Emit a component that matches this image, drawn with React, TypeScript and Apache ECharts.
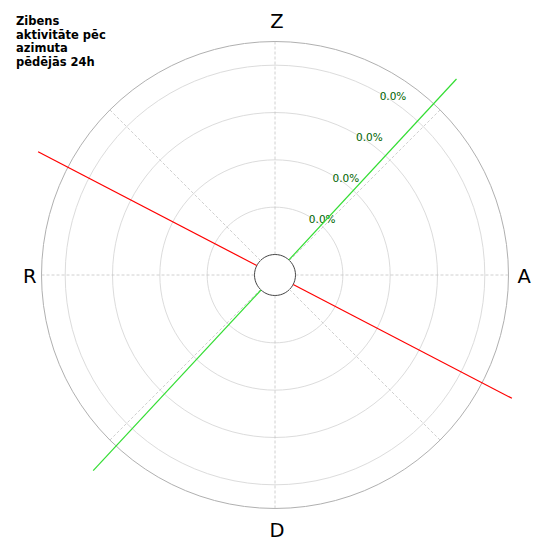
import React, { useEffect, useRef } from 'react';
import * as echarts from 'echarts';

const titleLines = ['Zibens', 'aktivitāte pēc', 'azimuta', 'pēdējās 24h'];
const directionLabels = ['Z', 'A', 'D', 'R'];
const directionAngles = [0, 90, 180, 270];
const ringValues = [1, 2, 3, 4];
const ringLabels = ['0.0%', '0.0%', '0.0%', '0.0%'];
const radiusMax = 4.5;
const redBearings = [297.5, 117.5];
const greenBearings = [42.8, 222.9];
const lineReach = 5.21;

// geometry of the rings: inner hole and pixels per radial unit
const innerR = 20.5;
const unitPx = 47.33;
const lineAxisMax = 5.5;

const makeSeries = (bearings: number[], color: string) =>
  bearings.map((b) => ({
    type: 'line',
    coordinateSystem: 'polar',
    polarIndex: 3,
    data: [
      [0, b],
      [lineReach, b],
    ],
    symbol: 'none',
    clip: false,
    silent: true,
    z: 5,
    lineStyle: { color, width: 1.2 },
  }));

export default function App() {
  const ref = useRef<HTMLDivElement>(null);
  useEffect(() => {
    if (!ref.current) return;
    const chart = echarts.init(ref.current, undefined, { renderer: 'svg' });
    const hidden = {
      axisLine: { show: false },
      axisTick: { show: false },
      splitLine: { show: false },
    };
    const outerR = innerR + unitPx * radiusMax;
    chart.setOption({
      animation: false,
      backgroundColor: '#ffffff',
      title: {
        text: titleLines.join('\n'),
        left: 16,
        top: 14,
        padding: 0,
        textStyle: {
          fontFamily: 'DejaVu Sans',
          fontSize: 11.5,
          fontWeight: 'bold',
          lineHeight: 13.7,
          color: '#000',
        },
      },
      polar: [
        { center: [275, 275], radius: [innerR, outerR] },
        { center: [275, 275], radius: [innerR + 4.1, outerR + 4.1] },
        { center: [277, 276], radius: [innerR, outerR] },
        { center: [275, 275], radius: [innerR, innerR + unitPx * lineAxisMax] },
      ],
      angleAxis: [
        {
          polarIndex: 0,
          type: 'value',
          min: 0,
          max: 360,
          interval: 45,
          startAngle: 90,
          clockwise: true,
          axisLine: { show: false },
          axisTick: { show: false },
          axisLabel: { show: false },
          splitLine: {
            show: true,
            lineStyle: { color: '#c4c4c4', width: 0.8, type: [3, 2] },
          },
        },
        {
          polarIndex: 1,
          type: 'value',
          min: 0,
          max: 360,
          interval: 90,
          startAngle: 60.1,
          clockwise: true,
          ...hidden,
          axisLabel: { show: false },
        },
        {
          polarIndex: 2,
          type: 'value',
          min: 0,
          max: 360,
          interval: 90,
          startAngle: 90,
          clockwise: true,
          ...hidden,
          axisLabel: {
            show: true,
            margin: 7,
            fontFamily: 'DejaVu Sans',
            fontSize: 19.5,
            lineHeight: 29,
            color: '#000',
            formatter: (v: number) => {
              const i = directionAngles.indexOf(v);
              return i >= 0 ? directionLabels[i] : '';
            },
          },
        },
        {
          polarIndex: 3,
          type: 'value',
          min: 0,
          max: 360,
          interval: 90,
          startAngle: 90,
          clockwise: true,
          ...hidden,
          axisLabel: { show: false },
        },
      ],
      radiusAxis: [
        {
          polarIndex: 0,
          type: 'value',
          min: 0,
          max: radiusMax,
          interval: 1,
          axisLine: { show: false },
          axisTick: { show: false },
          axisLabel: { show: false },
          splitLine: {
            show: true,
            lineStyle: {
              color: ['#444444', '#dcdcdc', '#dcdcdc', '#dcdcdc', '#dcdcdc', '#b0b0b0'],
              width: 1,
            },
          },
        },
        {
          polarIndex: 1,
          type: 'value',
          min: 0,
          max: radiusMax,
          interval: 1,
          ...hidden,
          axisLabel: {
            show: true,
            margin: -13.1,
            align: 'center',
            verticalAlign: 'middle',
            color: '#006400',
            fontFamily: 'DejaVu Sans',
            fontSize: 10.5,
            formatter: (v: number) => {
              const i = ringValues.indexOf(v);
              return i >= 0 ? ringLabels[i] : '';
            },
          },
        },
        {
          polarIndex: 2,
          type: 'value',
          min: 0,
          max: radiusMax,
          ...hidden,
          axisLabel: { show: false },
        },
        {
          polarIndex: 3,
          type: 'value',
          min: 0,
          max: lineAxisMax,
          ...hidden,
          axisLabel: { show: false },
        },
      ],
      series: [...makeSeries(redBearings, '#ff0000'), ...makeSeries(greenBearings, '#33dd33')],
    });
    return () => chart.dispose();
  }, []);
  return (
    <div
      ref={ref}
      style={{ position: 'fixed', left: 0, top: 0, width: 550, height: 550, background: '#fff' }}
    />
  );
}
